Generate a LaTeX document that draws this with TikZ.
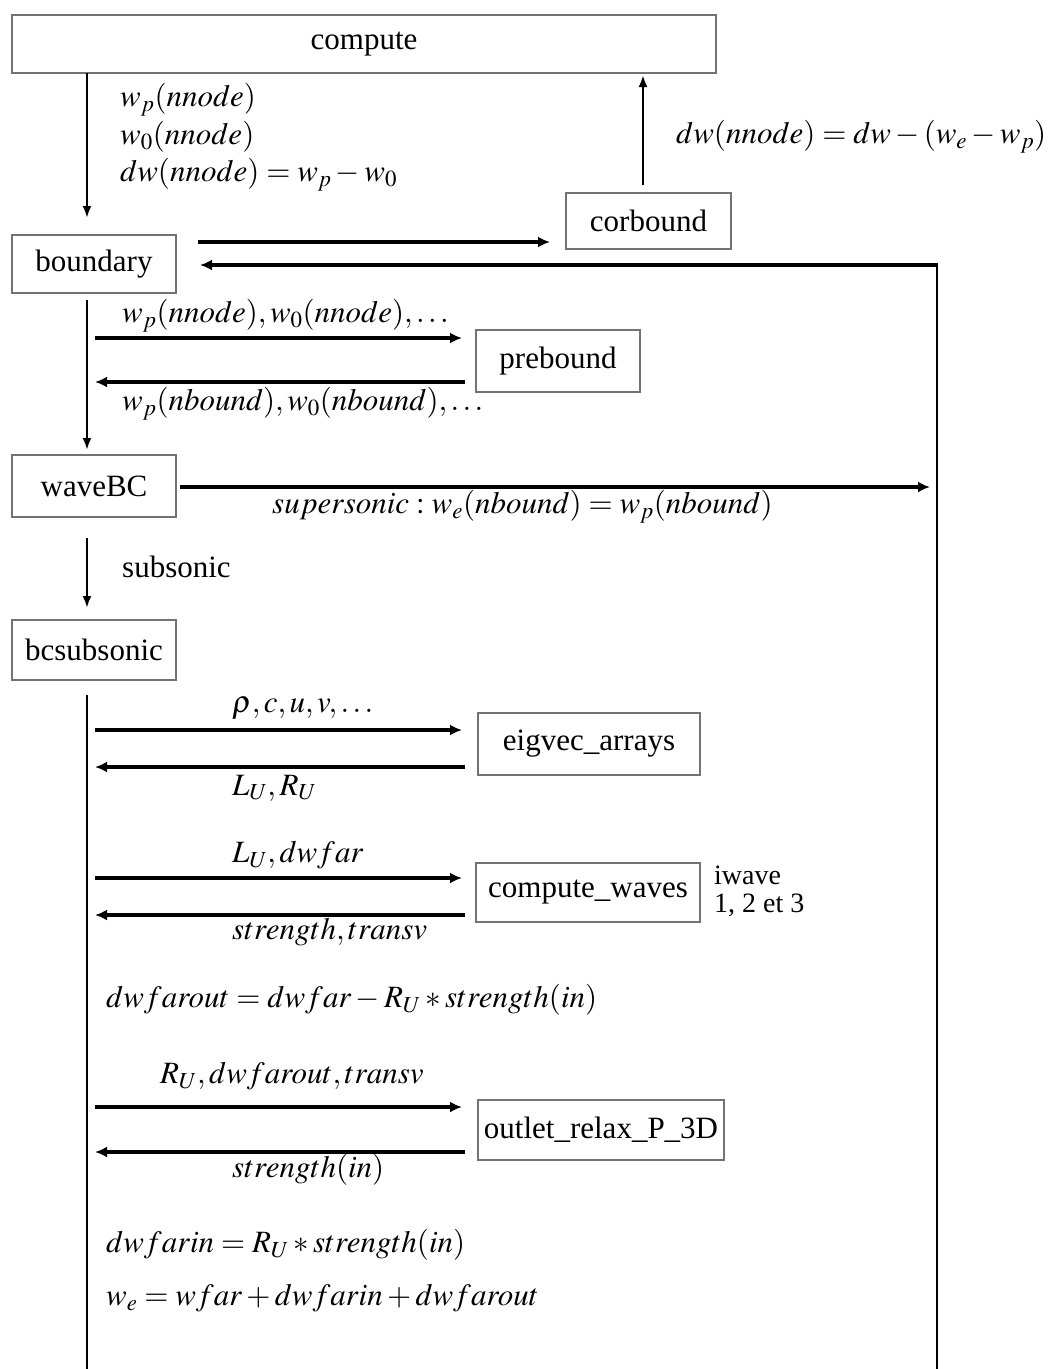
\documentclass[tikz,border=0pt]{standalone}
\usepackage{mathptmx}
\usepackage{fontspec}
\setmainfont{Liberation Serif}
\usetikzlibrary{arrows.meta}
\begin{document}
\begin{tikzpicture}[x=1pt,y=-1pt,
  every node/.style={font=\fontsize{31}{37}\selectfont, inner sep=0pt},
  box/.style={draw=black!55, line width=1.8pt, minimum height=58pt, anchor=center},
  harrow/.style={line width=3.6pt, -{Latex[length=12pt,width=11pt]}},
  varrow/.style={line width=2.4pt, -{Latex[length=12pt,width=9pt]}},
  vline/.style={line width=2.8pt},
  lab/.style={anchor=west},
  smalllab/.style={anchor=west, font=\fontsize{28}{30}\selectfont}]
\useasboundingbox (0,0) rectangle (1054,1369);
\fill[white] (0,0) rectangle (1054,1369);

% boxes
\node[box, minimum width=704pt, minimum height=58pt] (compute) at (364,44) {compute};
\node[box, minimum width=165pt, minimum height=56pt] (corbound) at (648.5,221) {corbound};
\node[box, minimum width=164pt, minimum height=58pt] (boundary) at (94,264) {boundary};
\node[box, minimum width=164pt, minimum height=62pt] (prebound) at (558,361) {prebound};
\node[box, minimum width=164pt, minimum height=62pt] (waveBC) at (94,486) {waveBC};
\node[box, minimum width=164pt, minimum height=60pt] (bcsub) at (94,650) {bcsubsonic};
\node[box, minimum width=222pt, minimum height=62pt] (eigvec) at (589,744) {eigvec\_arrays};
\node[box, minimum width=224pt, minimum height=59pt] (cwaves) at (588,892.5) {compute\_waves};
\node[box, minimum width=246pt, minimum height=60pt] (outlet) at (601,1130) {outlet\_relax\_P\_3D};

% helper coordinates
\coordinate (cA) at (87,73);
\coordinate (bA) at (87,218);
\coordinate (cbT) at (643,185);
\coordinate (cB) at (643,75);
\coordinate (bdR) at (198,242);
\coordinate (cbL) at (550,242);
\coordinate (retB) at (937,1369);
\coordinate (retC) at (937,265);
\coordinate (bdR2) at (200,265);
\coordinate (bdD) at (87,300);
\coordinate (wbU) at (87,450);
\coordinate (wbR) at (180,487);
\coordinate (wbE) at (930,487);
\coordinate (wbD) at (87,538);
\coordinate (bsU) at (87,608);
\coordinate (bsD) at (87,695);
\coordinate (bsE) at (87,1369);

% connectors
\draw[varrow] (cA) -- (bA);
\draw[varrow] (cbT) -- (cB);
\draw[harrow] (bdR) -- (cbL);
\draw[vline] (retB) -- (retC);
\draw[harrow] ([xshift=1.4pt]retC) -- (bdR2);
\draw[varrow] (bdD) -- (wbU);
\draw[harrow] (wbR) -- (wbE);
\draw[varrow] (wbD) -- (bsU);
\draw[vline] (bsD) -- (bsE);

% request/return arrows
\coordinate (p1) at (95,338); \coordinate (p1e) at (462,338);
\coordinate (p2) at (465,382); \coordinate (p2e) at (95,382);
\draw[harrow] (p1) -- (p1e);
\draw[harrow] (p2) -- (p2e);
\coordinate (e1) at (95,730); \coordinate (e1e) at (462,730);
\coordinate (e2) at (465,767); \coordinate (e2e) at (95,767);
\draw[harrow] (e1) -- (e1e);
\draw[harrow] (e2) -- (e2e);
\coordinate (w1) at (95,878); \coordinate (w1e) at (462,878);
\coordinate (w2) at (465,915); \coordinate (w2e) at (95,915);
\draw[harrow] (w1) -- (w1e);
\draw[harrow] (w2) -- (w2e);
\coordinate (o1) at (95,1107); \coordinate (o1e) at (462,1107);
\coordinate (o2) at (465,1152); \coordinate (o2e) at (95,1152);
\draw[harrow] (o1) -- (o1e);
\draw[harrow] (o2) -- (o2e);

% labels
\node[lab] (l1) at (120,100) {$w_p(nnode)$};
\node[lab] (l2) at (120,137) {$w_0(nnode)$};
\node[lab] (l3) at (120,175) {$dw(nnode)=w_p-w_0$};
\node[lab] (l4) at (676,137) {$dw(nnode)=dw-(w_e-w_p)$};
\node[lab] (l5) at (122,316) {$w_p(nnode),w_0(nnode),\ldots$};
\node[lab] (l6) at (122,404) {$w_p(nbound),w_0(nbound),\ldots$};
\node[lab] (l7) at (272,507) {$supersonic:w_e(nbound)=w_p(nbound)$};
\node[lab] (l8) at (122,567) {subsonic};
\node[lab] (l9) at (232,708) {$\rho,c,u,v,\ldots$};
\node[lab] (l10) at (232,788) {$L_U,R_U$};
\node[lab] (l11) at (232,855) {$L_U,dwfar$};
\node[lab] (l12) at (232,932) {$strength,transv$};
\node[smalllab, anchor=base west] (l13a) at (714,884) {iwave};
\node[smalllab, anchor=base west] (l13b) at (714,912) {1, 2 et 3};
\node[lab] (l14) at (106,1000) {$dwfarout=dwfar-R_U*strength(in)$};
\node[lab] (l15) at (160,1076) {$R_U,dwfarout,transv$};
\node[lab] (l16) at (232,1170) {$strength(in)$};
\node[lab] (l17) at (106,1245) {$dwfarin=R_U*strength(in)$};
\node[lab] (l18) at (106,1298) {$w_e=wfar+dwfarin+dwfarout$};
\end{tikzpicture}
\end{document}
